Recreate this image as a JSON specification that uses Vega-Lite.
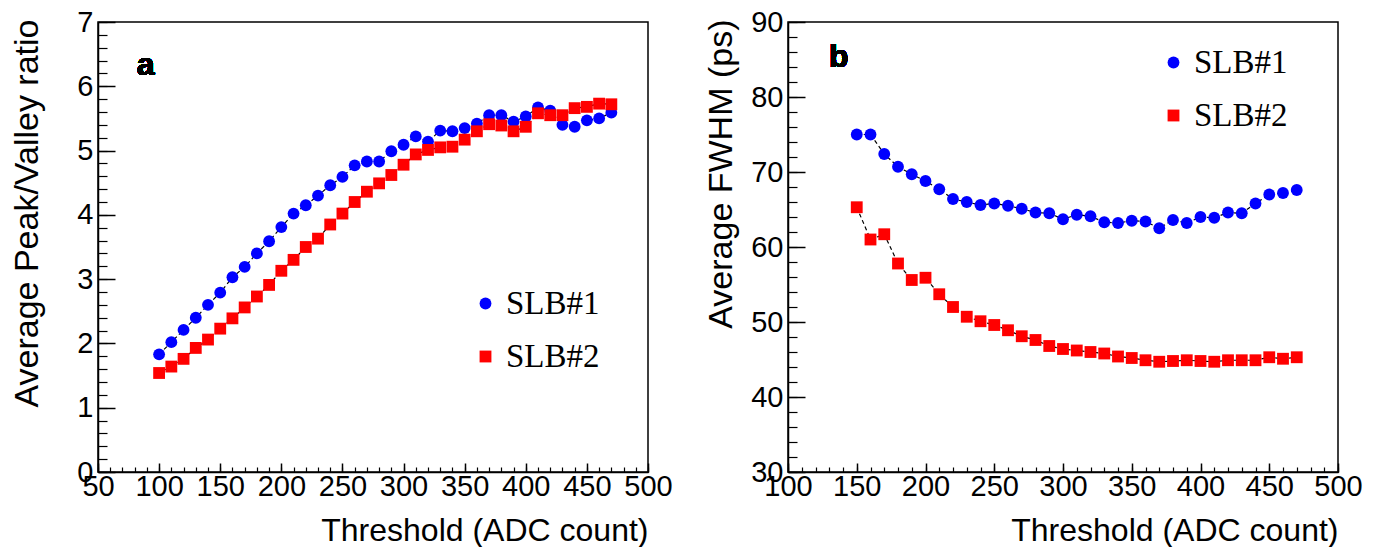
{
  "$schema": "https://vega.github.io/schema/vega-lite/v6.json",
  "background": "white",
  "padding": {"left": 9, "top": 7, "right": 0, "bottom": 0},
  "spacing": 140,
  "bounds": "flush",
  "config": {
    "font": "Liberation Sans",
    "view": {"stroke": "black", "strokeWidth": 1.5},
    "legend": {"padding": 0}
  },
  "datasets": {
    "pv": [
      {"threshold": 100, "value": 1.83, "detector": "SLB#1"},
      {"threshold": 110, "value": 2.02, "detector": "SLB#1"},
      {"threshold": 120, "value": 2.21, "detector": "SLB#1"},
      {"threshold": 130, "value": 2.40, "detector": "SLB#1"},
      {"threshold": 140, "value": 2.60, "detector": "SLB#1"},
      {"threshold": 150, "value": 2.79, "detector": "SLB#1"},
      {"threshold": 160, "value": 3.03, "detector": "SLB#1"},
      {"threshold": 170, "value": 3.19, "detector": "SLB#1"},
      {"threshold": 180, "value": 3.40, "detector": "SLB#1"},
      {"threshold": 190, "value": 3.59, "detector": "SLB#1"},
      {"threshold": 200, "value": 3.81, "detector": "SLB#1"},
      {"threshold": 210, "value": 4.02, "detector": "SLB#1"},
      {"threshold": 220, "value": 4.15, "detector": "SLB#1"},
      {"threshold": 230, "value": 4.30, "detector": "SLB#1"},
      {"threshold": 240, "value": 4.46, "detector": "SLB#1"},
      {"threshold": 250, "value": 4.59, "detector": "SLB#1"},
      {"threshold": 260, "value": 4.77, "detector": "SLB#1"},
      {"threshold": 270, "value": 4.83, "detector": "SLB#1"},
      {"threshold": 280, "value": 4.83, "detector": "SLB#1"},
      {"threshold": 290, "value": 4.99, "detector": "SLB#1"},
      {"threshold": 300, "value": 5.09, "detector": "SLB#1"},
      {"threshold": 310, "value": 5.22, "detector": "SLB#1"},
      {"threshold": 320, "value": 5.14, "detector": "SLB#1"},
      {"threshold": 330, "value": 5.31, "detector": "SLB#1"},
      {"threshold": 340, "value": 5.30, "detector": "SLB#1"},
      {"threshold": 350, "value": 5.35, "detector": "SLB#1"},
      {"threshold": 360, "value": 5.42, "detector": "SLB#1"},
      {"threshold": 370, "value": 5.55, "detector": "SLB#1"},
      {"threshold": 380, "value": 5.55, "detector": "SLB#1"},
      {"threshold": 390, "value": 5.45, "detector": "SLB#1"},
      {"threshold": 400, "value": 5.53, "detector": "SLB#1"},
      {"threshold": 410, "value": 5.67, "detector": "SLB#1"},
      {"threshold": 420, "value": 5.62, "detector": "SLB#1"},
      {"threshold": 430, "value": 5.40, "detector": "SLB#1"},
      {"threshold": 440, "value": 5.37, "detector": "SLB#1"},
      {"threshold": 450, "value": 5.47, "detector": "SLB#1"},
      {"threshold": 460, "value": 5.50, "detector": "SLB#1"},
      {"threshold": 470, "value": 5.59, "detector": "SLB#1"},
      {"threshold": 100, "value": 1.54, "detector": "SLB#2"},
      {"threshold": 110, "value": 1.64, "detector": "SLB#2"},
      {"threshold": 120, "value": 1.76, "detector": "SLB#2"},
      {"threshold": 130, "value": 1.93, "detector": "SLB#2"},
      {"threshold": 140, "value": 2.06, "detector": "SLB#2"},
      {"threshold": 150, "value": 2.23, "detector": "SLB#2"},
      {"threshold": 160, "value": 2.39, "detector": "SLB#2"},
      {"threshold": 170, "value": 2.56, "detector": "SLB#2"},
      {"threshold": 180, "value": 2.73, "detector": "SLB#2"},
      {"threshold": 190, "value": 2.91, "detector": "SLB#2"},
      {"threshold": 200, "value": 3.13, "detector": "SLB#2"},
      {"threshold": 210, "value": 3.30, "detector": "SLB#2"},
      {"threshold": 220, "value": 3.50, "detector": "SLB#2"},
      {"threshold": 230, "value": 3.63, "detector": "SLB#2"},
      {"threshold": 240, "value": 3.85, "detector": "SLB#2"},
      {"threshold": 250, "value": 4.02, "detector": "SLB#2"},
      {"threshold": 260, "value": 4.20, "detector": "SLB#2"},
      {"threshold": 270, "value": 4.36, "detector": "SLB#2"},
      {"threshold": 280, "value": 4.49, "detector": "SLB#2"},
      {"threshold": 290, "value": 4.62, "detector": "SLB#2"},
      {"threshold": 300, "value": 4.78, "detector": "SLB#2"},
      {"threshold": 310, "value": 4.94, "detector": "SLB#2"},
      {"threshold": 320, "value": 5.01, "detector": "SLB#2"},
      {"threshold": 330, "value": 5.05, "detector": "SLB#2"},
      {"threshold": 340, "value": 5.06, "detector": "SLB#2"},
      {"threshold": 350, "value": 5.17, "detector": "SLB#2"},
      {"threshold": 360, "value": 5.30, "detector": "SLB#2"},
      {"threshold": 370, "value": 5.41, "detector": "SLB#2"},
      {"threshold": 380, "value": 5.39, "detector": "SLB#2"},
      {"threshold": 390, "value": 5.30, "detector": "SLB#2"},
      {"threshold": 400, "value": 5.37, "detector": "SLB#2"},
      {"threshold": 410, "value": 5.58, "detector": "SLB#2"},
      {"threshold": 420, "value": 5.55, "detector": "SLB#2"},
      {"threshold": 430, "value": 5.55, "detector": "SLB#2"},
      {"threshold": 440, "value": 5.66, "detector": "SLB#2"},
      {"threshold": 450, "value": 5.68, "detector": "SLB#2"},
      {"threshold": 460, "value": 5.73, "detector": "SLB#2"},
      {"threshold": 470, "value": 5.72, "detector": "SLB#2"}
    ],
    "fwhm": [
      {"threshold": 150, "value": 75.0, "detector": "SLB#1"},
      {"threshold": 160, "value": 75.0, "detector": "SLB#1"},
      {"threshold": 170, "value": 72.4, "detector": "SLB#1"},
      {"threshold": 180, "value": 70.7, "detector": "SLB#1"},
      {"threshold": 190, "value": 69.7, "detector": "SLB#1"},
      {"threshold": 200, "value": 68.8, "detector": "SLB#1"},
      {"threshold": 210, "value": 67.7, "detector": "SLB#1"},
      {"threshold": 220, "value": 66.4, "detector": "SLB#1"},
      {"threshold": 230, "value": 66.0, "detector": "SLB#1"},
      {"threshold": 240, "value": 65.6, "detector": "SLB#1"},
      {"threshold": 250, "value": 65.8, "detector": "SLB#1"},
      {"threshold": 260, "value": 65.5, "detector": "SLB#1"},
      {"threshold": 270, "value": 65.1, "detector": "SLB#1"},
      {"threshold": 280, "value": 64.6, "detector": "SLB#1"},
      {"threshold": 290, "value": 64.5, "detector": "SLB#1"},
      {"threshold": 300, "value": 63.7, "detector": "SLB#1"},
      {"threshold": 310, "value": 64.3, "detector": "SLB#1"},
      {"threshold": 320, "value": 64.1, "detector": "SLB#1"},
      {"threshold": 330, "value": 63.3, "detector": "SLB#1"},
      {"threshold": 340, "value": 63.2, "detector": "SLB#1"},
      {"threshold": 350, "value": 63.5, "detector": "SLB#1"},
      {"threshold": 360, "value": 63.4, "detector": "SLB#1"},
      {"threshold": 370, "value": 62.5, "detector": "SLB#1"},
      {"threshold": 380, "value": 63.6, "detector": "SLB#1"},
      {"threshold": 390, "value": 63.2, "detector": "SLB#1"},
      {"threshold": 400, "value": 64.0, "detector": "SLB#1"},
      {"threshold": 410, "value": 63.9, "detector": "SLB#1"},
      {"threshold": 420, "value": 64.6, "detector": "SLB#1"},
      {"threshold": 430, "value": 64.5, "detector": "SLB#1"},
      {"threshold": 440, "value": 65.8, "detector": "SLB#1"},
      {"threshold": 450, "value": 67.0, "detector": "SLB#1"},
      {"threshold": 460, "value": 67.2, "detector": "SLB#1"},
      {"threshold": 470, "value": 67.6, "detector": "SLB#1"},
      {"threshold": 150, "value": 65.3, "detector": "SLB#2"},
      {"threshold": 160, "value": 61.0, "detector": "SLB#2"},
      {"threshold": 170, "value": 61.7, "detector": "SLB#2"},
      {"threshold": 180, "value": 57.8, "detector": "SLB#2"},
      {"threshold": 190, "value": 55.6, "detector": "SLB#2"},
      {"threshold": 200, "value": 55.9, "detector": "SLB#2"},
      {"threshold": 210, "value": 53.7, "detector": "SLB#2"},
      {"threshold": 220, "value": 52.0, "detector": "SLB#2"},
      {"threshold": 230, "value": 50.7, "detector": "SLB#2"},
      {"threshold": 240, "value": 50.1, "detector": "SLB#2"},
      {"threshold": 250, "value": 49.6, "detector": "SLB#2"},
      {"threshold": 260, "value": 48.9, "detector": "SLB#2"},
      {"threshold": 270, "value": 48.1, "detector": "SLB#2"},
      {"threshold": 280, "value": 47.6, "detector": "SLB#2"},
      {"threshold": 290, "value": 46.8, "detector": "SLB#2"},
      {"threshold": 300, "value": 46.4, "detector": "SLB#2"},
      {"threshold": 310, "value": 46.2, "detector": "SLB#2"},
      {"threshold": 320, "value": 46.0, "detector": "SLB#2"},
      {"threshold": 330, "value": 45.8, "detector": "SLB#2"},
      {"threshold": 340, "value": 45.4, "detector": "SLB#2"},
      {"threshold": 350, "value": 45.2, "detector": "SLB#2"},
      {"threshold": 360, "value": 44.9, "detector": "SLB#2"},
      {"threshold": 370, "value": 44.7, "detector": "SLB#2"},
      {"threshold": 380, "value": 44.8, "detector": "SLB#2"},
      {"threshold": 390, "value": 44.9, "detector": "SLB#2"},
      {"threshold": 400, "value": 44.8, "detector": "SLB#2"},
      {"threshold": 410, "value": 44.7, "detector": "SLB#2"},
      {"threshold": 420, "value": 44.9, "detector": "SLB#2"},
      {"threshold": 430, "value": 44.9, "detector": "SLB#2"},
      {"threshold": 440, "value": 44.9, "detector": "SLB#2"},
      {"threshold": 450, "value": 45.3, "detector": "SLB#2"},
      {"threshold": 460, "value": 45.1, "detector": "SLB#2"},
      {"threshold": 470, "value": 45.3, "detector": "SLB#2"}
    ]
  },
  "hconcat": [
    {
      "width": 550,
      "height": 450,
      "data": {"name": "pv"},
      "resolve": {"axis": {"x": "independent", "y": "independent"}},
      "layer": [
        {
          "mark": {"type": "line", "color": "black", "strokeWidth": 1.2, "strokeDash": [4, 3]},
          "encoding": {
            "x": {"field": "threshold", "type": "quantitative", "scale": {"domain": [50, 500], "nice": false, "zero": false},
              "axis": {"orient": "bottom", "values": [50, 100, 150, 200, 250, 300, 350, 400, 450, 500], "tickSize": -9, "tickWidth": 1.5, "tickColor": "black", "domainColor": "black", "domainWidth": 1.5, "grid": false, "labelFontSize": 29, "labelColor": "black", "labelPadding": 9, "labelFlush": false, "labelOverlap": false, "labelBound": false, "title": "Threshold (ADC count)", "titleFontSize": 32, "titleFontWeight": "normal", "titleColor": "black", "titleAnchor": "end", "titleY": 58, "titleBaseline": "middle"}},
            "y": {"field": "value", "type": "quantitative", "scale": {"domain": [0, 7], "nice": false, "zero": false},
              "axis": {"orient": "left", "values": [0, 1, 2, 3, 4, 5, 6, 7], "tickSize": -17, "tickWidth": 1.5, "tickColor": "black", "domainColor": "black", "domainWidth": 1.5, "grid": false, "labelFontSize": 29, "labelColor": "black", "labelPadding": 22, "labelFlush": false, "labelOverlap": false, "labelBound": false, "title": "Average Peak/Valley ratio", "titleFontSize": 34, "titleFontWeight": "normal", "titleColor": "black", "titleAnchor": "end", "titleX": -71, "titleY": -3, "titleBaseline": "middle"}},
            "detail": {"field": "detector"}
          }
        },
        {
          "mark": {"type": "point", "filled": true, "opacity": 1, "size": 140},
          "encoding": {
            "x": {"field": "threshold", "type": "quantitative",
              "axis": {"orient": "bottom", "values": [50,60,70,80,90,100,110,120,130,140,150,160,170,180,190,200,210,220,230,240,250,260,270,280,290,300,310,320,330,340,350,360,370,380,390,400,410,420,430,440,450,460,470,480,490,500], "tickSize": -5, "tickWidth": 1.2, "tickColor": "black", "labels": false, "domain": false, "grid": false, "title": null}},
            "y": {"field": "value", "type": "quantitative",
              "axis": {"orient": "left", "values": [0,0.2,0.4,0.6,0.8,1,1.2,1.4,1.6,1.8,2,2.2,2.4,2.6,2.8,3,3.2,3.4,3.6,3.8,4,4.2,4.4,4.6,4.8,5,5.2,5.4,5.6,5.8,6,6.2,6.4,6.6,6.8,7], "tickSize": -9, "tickWidth": 1.2, "tickColor": "black", "labels": false, "domain": false, "grid": false, "title": null}},
            "color": {"field": "detector", "type": "nominal", "scale": {"domain": ["SLB#1", "SLB#2"], "range": ["#0000ff", "#ff0000"]},
              "legend": {"orient": "none", "legendX": 371, "legendY": 265, "title": null, "labelFont": "Liberation Serif", "labelFontSize": 33, "labelColor": "black", "labelOffset": 4, "rowPadding": 19, "symbolSize": 140, "symbolStrokeWidth": 0, "symbolOpacity": 1}},
            "shape": {"field": "detector", "type": "nominal", "scale": {"domain": ["SLB#1", "SLB#2"], "range": ["circle", "square"]},
              "legend": {"orient": "none", "legendX": 371, "legendY": 265, "title": null, "labelFont": "Liberation Serif", "labelFontSize": 33, "labelColor": "black", "labelOffset": 4, "rowPadding": 19, "symbolSize": 140, "symbolStrokeWidth": 0, "symbolOpacity": 1}}
          }
        },
        {
          "mark": {"type": "text", "font": "Liberation Sans", "fontWeight": "bold", "fontSize": 32, "color": "black", "align": "center", "baseline": "middle"},
          "encoding": {
            "x": {"datum": 89, "type": "quantitative", "axis": null},
            "y": {"datum": 6.33, "type": "quantitative", "axis": null},
            "text": {"value": "a"}
          }
        }
      ]
    },
    {
      "width": 550,
      "height": 450,
      "data": {"name": "fwhm"},
      "resolve": {"axis": {"x": "independent", "y": "independent"}},
      "layer": [
        {
          "mark": {"type": "line", "color": "black", "strokeWidth": 1.2, "strokeDash": [4, 3]},
          "encoding": {
            "x": {"field": "threshold", "type": "quantitative", "scale": {"domain": [100, 500], "nice": false, "zero": false},
              "axis": {"orient": "bottom", "values": [100, 150, 200, 250, 300, 350, 400, 450, 500], "tickSize": -9, "tickWidth": 1.5, "tickColor": "black", "domainColor": "black", "domainWidth": 1.5, "grid": false, "labelFontSize": 29, "labelColor": "black", "labelPadding": 9, "labelFlush": false, "labelOverlap": false, "labelBound": false, "title": "Threshold (ADC count)", "titleFontSize": 32, "titleFontWeight": "normal", "titleColor": "black", "titleAnchor": "end", "titleY": 58, "titleBaseline": "middle"}},
            "y": {"field": "value", "type": "quantitative", "scale": {"domain": [30, 90], "nice": false, "zero": false},
              "axis": {"orient": "left", "values": [30, 40, 50, 60, 70, 80, 90], "tickSize": -17, "tickWidth": 1.5, "tickColor": "black", "domainColor": "black", "domainWidth": 1.5, "grid": false, "labelFontSize": 29, "labelColor": "black", "labelPadding": 22, "labelFlush": false, "labelOverlap": false, "labelBound": false, "title": "Average FWHM (ps)", "titleFontSize": 34, "titleFontWeight": "normal", "titleColor": "black", "titleAnchor": "end", "titleX": -67, "titleY": -3, "titleBaseline": "middle"}},
            "detail": {"field": "detector"}
          }
        },
        {
          "mark": {"type": "point", "filled": true, "opacity": 1, "size": 140},
          "encoding": {
            "x": {"field": "threshold", "type": "quantitative",
              "axis": {"orient": "bottom", "values": [100,110,120,130,140,150,160,170,180,190,200,210,220,230,240,250,260,270,280,290,300,310,320,330,340,350,360,370,380,390,400,410,420,430,440,450,460,470,480,490,500], "tickSize": -5, "tickWidth": 1.2, "tickColor": "black", "labels": false, "domain": false, "grid": false, "title": null}},
            "y": {"field": "value", "type": "quantitative",
              "axis": {"orient": "left", "values": [30,32,34,36,38,40,42,44,46,48,50,52,54,56,58,60,62,64,66,68,70,72,74,76,78,80,82,84,86,88,90], "tickSize": -9, "tickWidth": 1.2, "tickColor": "black", "labels": false, "domain": false, "grid": false, "title": null}},
            "color": {"field": "detector", "type": "nominal", "scale": {"domain": ["SLB#1", "SLB#2"], "range": ["#0000ff", "#ff0000"]},
              "legend": {"orient": "none", "legendX": 369, "legendY": 24, "title": null, "labelFont": "Liberation Serif", "labelFontSize": 33, "labelColor": "black", "labelOffset": 4, "rowPadding": 19, "symbolSize": 140, "symbolStrokeWidth": 0, "symbolOpacity": 1}},
            "shape": {"field": "detector", "type": "nominal", "scale": {"domain": ["SLB#1", "SLB#2"], "range": ["circle", "square"]},
              "legend": {"orient": "none", "legendX": 369, "legendY": 24, "title": null, "labelFont": "Liberation Serif", "labelFontSize": 33, "labelColor": "black", "labelOffset": 4, "rowPadding": 19, "symbolSize": 140, "symbolStrokeWidth": 0, "symbolOpacity": 1}}
          }
        },
        {
          "mark": {"type": "text", "font": "Liberation Sans", "fontWeight": "bold", "fontSize": 32, "color": "black", "align": "center", "baseline": "middle"},
          "encoding": {
            "x": {"datum": 137, "type": "quantitative", "axis": null},
            "y": {"datum": 85.3, "type": "quantitative", "axis": null},
            "text": {"value": "b"}
          }
        }
      ]
    }
  ],
  "resolve": {"scale": {"color": "independent", "shape": "independent"}}
}
